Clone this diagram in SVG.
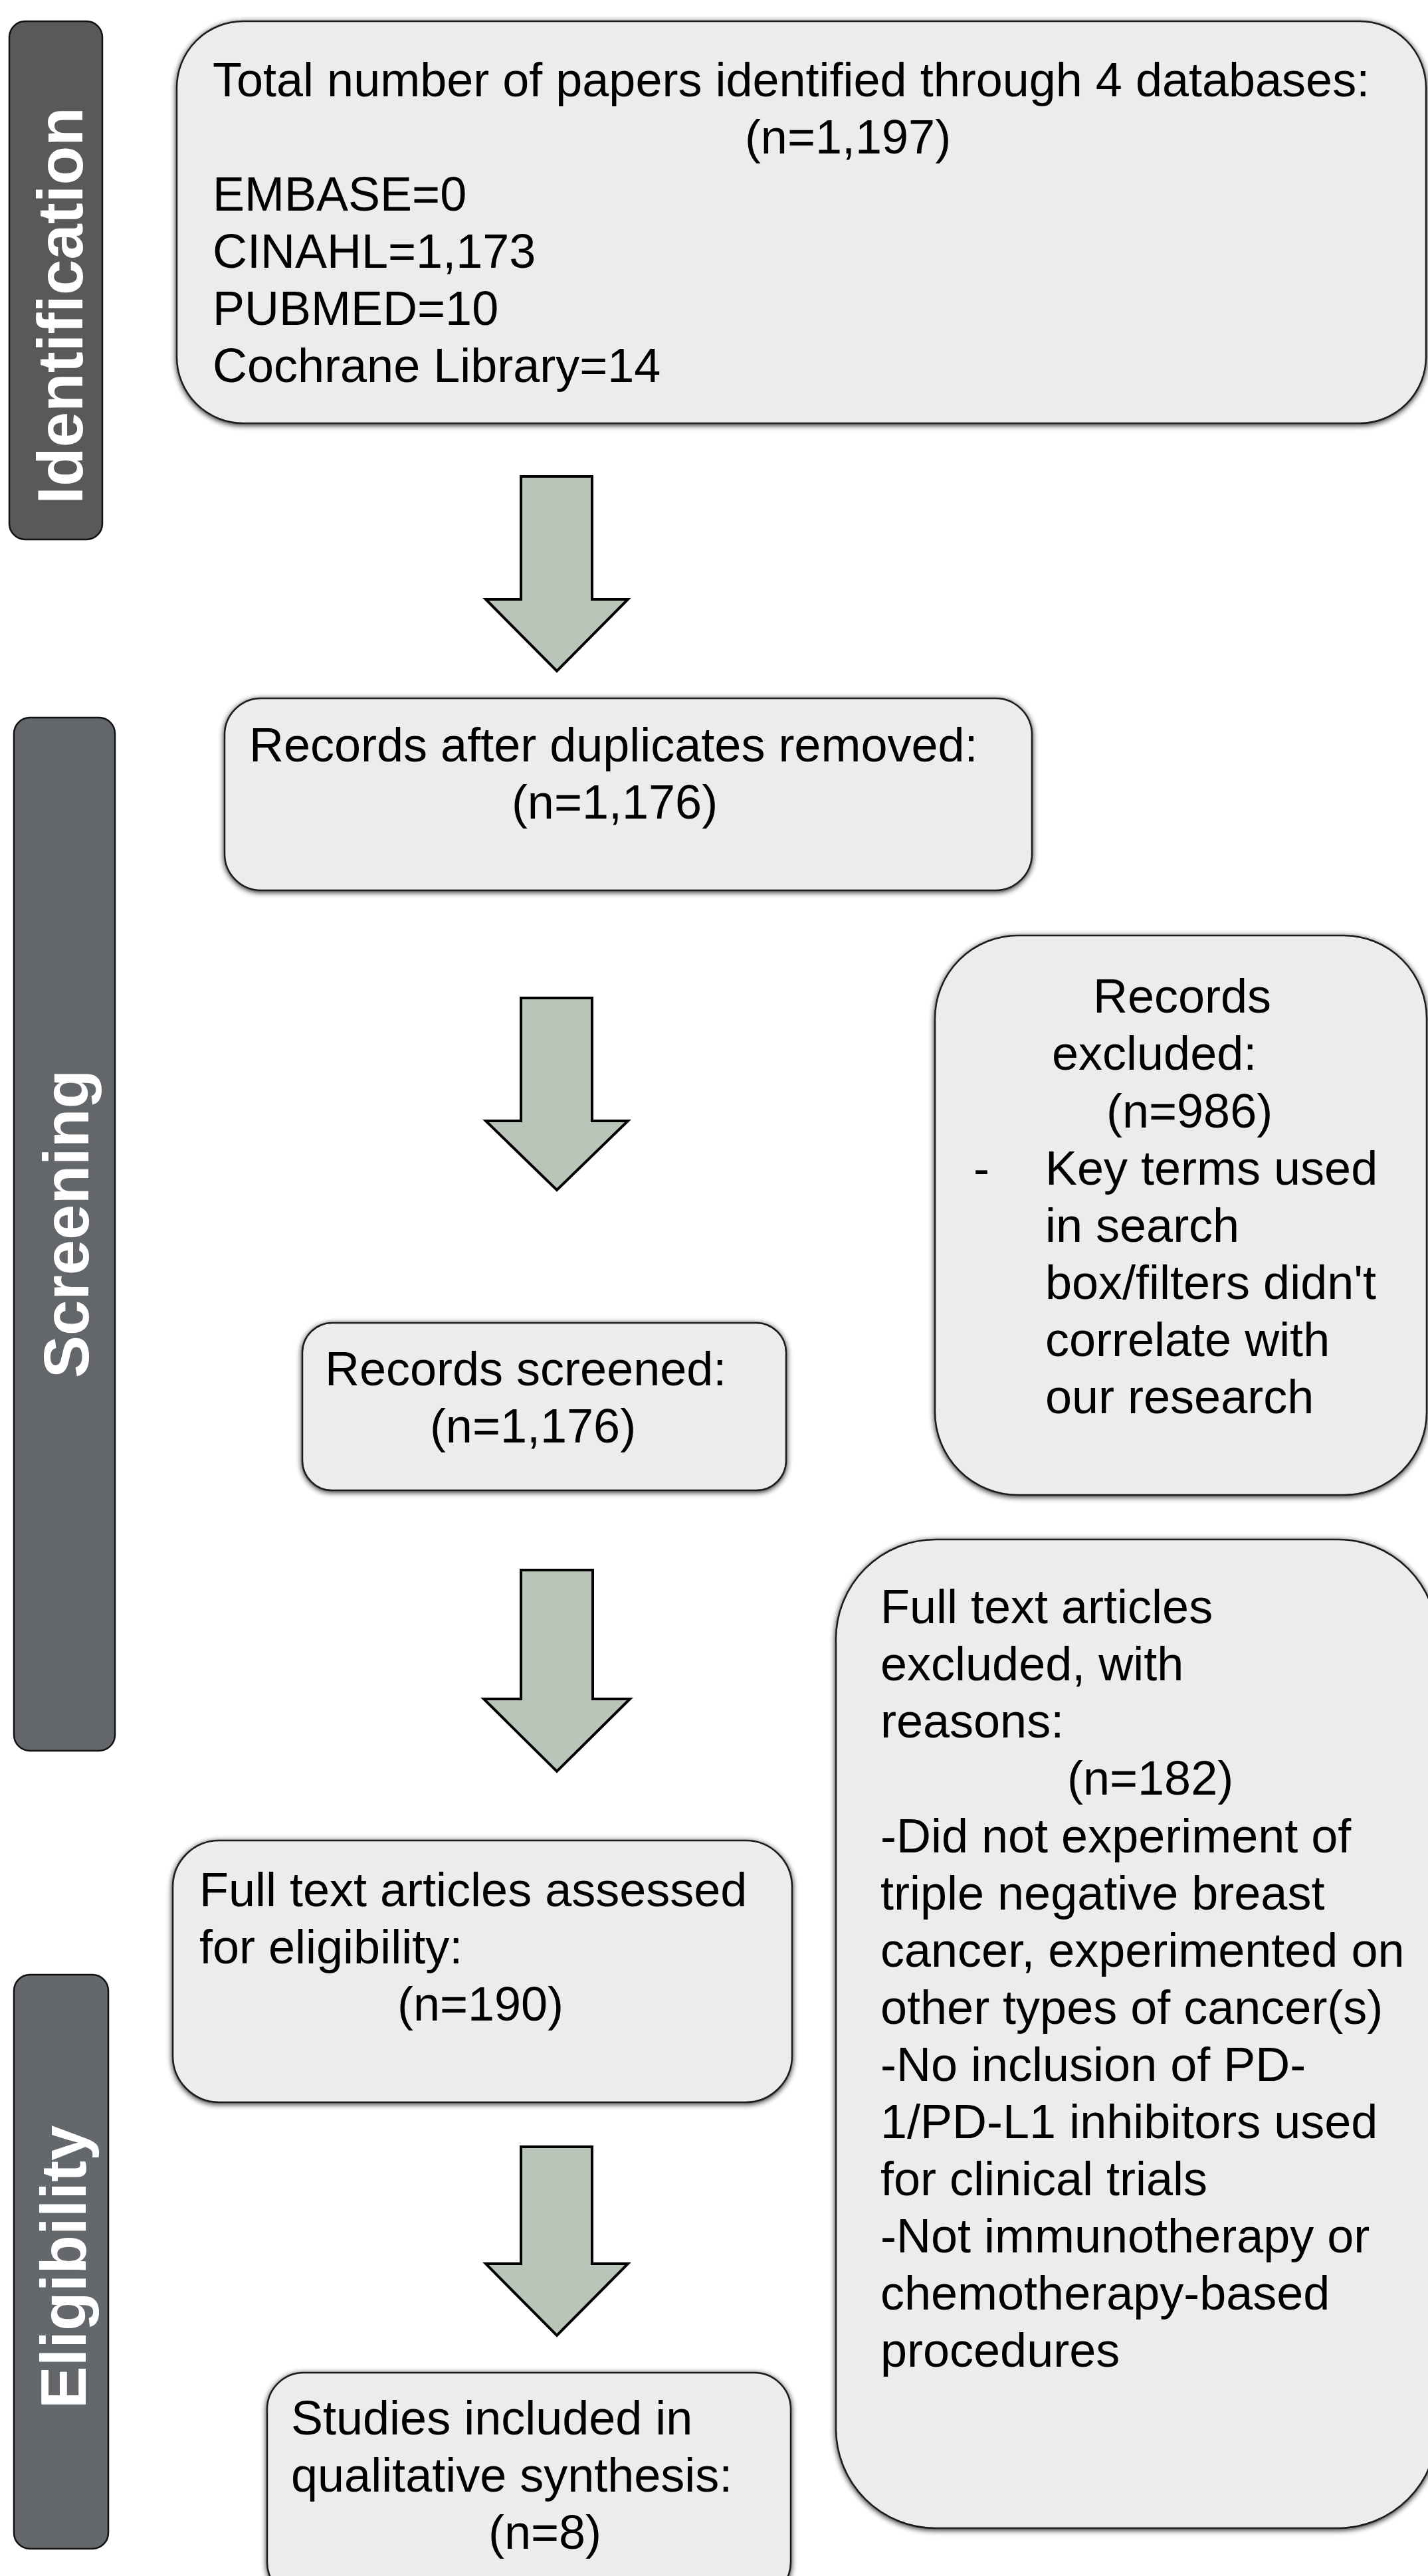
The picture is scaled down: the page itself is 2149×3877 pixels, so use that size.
<svg xmlns="http://www.w3.org/2000/svg" width="2149" height="3877" viewBox="0 0 2149 3877">
<defs>
<filter id="sh" x="-5%" y="-5%" width="110%" height="110%">
<feGaussianBlur in="SourceAlpha" stdDeviation="4.5"/>
<feOffset dx="0" dy="2" result="b"/>
<feComponentTransfer><feFuncA type="linear" slope="0.85"/></feComponentTransfer>
<feMerge><feMergeNode/><feMergeNode in="SourceGraphic"/></feMerge>
</filter>
<style>
.box{fill:#EBECEE;stroke:#1a1a1a;stroke-width:2.5;filter:url(#sh);}
.bar{stroke:#111;stroke-width:2.5;}
.t{font-family:"Liberation Sans",Arial,sans-serif;font-size:72px;fill:#000;}
.bt{font-family:"Liberation Sans",Arial,sans-serif;font-weight:bold;font-size:96px;fill:#fff;text-anchor:middle;}
.arr{fill:#BAC5BA;stroke:#000;stroke-width:4;stroke-linejoin:miter;}
</style>
</defs>
<rect width="2149" height="3877" fill="#fff"/>

<g id="bar-identification">
<rect class="bar" x="14" y="32" width="140" height="780" rx="24" fill="#595959"/>
<text class="bt" transform="translate(124,460) rotate(-90)">Identification</text>
</g>
<g id="bar-screening">
<rect class="bar" x="21" y="1080" width="152" height="1555" rx="24" fill="#63666A"/>
<text class="bt" transform="translate(133,1842) rotate(-90)">Screening</text>
</g>
<g id="bar-eligibility">
<rect class="bar" x="21" y="2972" width="142" height="864" rx="24" fill="#64676B"/>
<text class="bt" transform="translate(129,3412) rotate(-90)">Eligibility</text>
</g>

<g id="node-identified">
<rect class="box" x="266" y="32" width="1880" height="605" rx="100"/>
<text class="t" x="320" y="145">Total number of papers identified through 4 databases:</text>
<text class="t" x="1276" y="231" text-anchor="middle">(n=1,197)</text>
<text class="t" x="320" y="317">EMBASE=0</text>
<text class="t" x="320" y="403">CINAHL=1,173</text>
<text class="t" x="320" y="489">PUBMED=10</text>
<text class="t" x="320" y="575">Cochrane Library=14</text>
</g>

<g id="node-duplicates">
<rect class="box" x="338" y="1051" width="1215" height="289" rx="55"/>
<text class="t" x="375" y="1146">Records after duplicates removed:</text>
<text class="t" x="925" y="1232" text-anchor="middle">(n=1,176)</text>
</g>

<g id="node-records-excluded">
<rect class="box" x="1407" y="1408" width="740" height="842" rx="125"/>
<text class="t" x="1645" y="1524">Records</text>
<text class="t" x="1583" y="1610">excluded:</text>
<text class="t" x="1665" y="1697">(n=986)</text>
<text class="t" x="1465" y="1783">-</text>
<text class="t" x="1573" y="1783">Key terms used</text>
<text class="t" x="1573" y="1869">in search</text>
<text class="t" x="1573" y="1955">box/filters didn't</text>
<text class="t" x="1573" y="2041">correlate with</text>
<text class="t" x="1573" y="2127">our research</text>
</g>

<g id="node-screened">
<rect class="box" x="455" y="1991" width="728" height="252" rx="45"/>
<text class="t" x="489" y="2085">Records screened:</text>
<text class="t" x="802" y="2171" text-anchor="middle">(n=1,176)</text>
</g>

<g id="node-fulltext-excluded">
<rect class="box" x="1258" y="2317" width="905" height="1488" rx="150"/>
<text class="t" x="1325" y="2443">Full text articles</text>
<text class="t" x="1325" y="2529">excluded, with</text>
<text class="t" x="1325" y="2615">reasons:</text>
<text class="t" x="1606" y="2701">(n=182)</text>
<text class="t" x="1325" y="2788">-Did not experiment of</text>
<text class="t" x="1325" y="2874">triple negative breast</text>
<text class="t" x="1325" y="2960">cancer, experimented on</text>
<text class="t" x="1325" y="3046">other types of cancer(s)</text>
<text class="t" x="1325" y="3132">-No inclusion of PD-</text>
<text class="t" x="1325" y="3218">1/PD-L1 inhibitors used</text>
<text class="t" x="1325" y="3304">for clinical trials</text>
<text class="t" x="1325" y="3390">-Not immunotherapy or</text>
<text class="t" x="1325" y="3476">chemotherapy-based</text>
<text class="t" x="1325" y="3562">procedures</text>
</g>

<g id="node-fulltext-assessed">
<rect class="box" x="260" y="2770" width="932" height="394" rx="70"/>
<text class="t" x="300" y="2869">Full text articles assessed</text>
<text class="t" x="300" y="2955">for eligibility:</text>
<text class="t" x="723" y="3041" text-anchor="middle">(n=190)</text>
</g>

<g id="node-included">
<rect class="box" x="402" y="3571" width="788" height="340" rx="55"/>
<text class="t" x="438" y="3664">Studies included in</text>
<text class="t" x="438" y="3750">qualitative synthesis:</text>
<text class="t" x="820" y="3836" text-anchor="middle">(n=8)</text>
</g>

<g id="connectors">
<path class="arr" d="M784,717 H891 V902 H945 L838,1010 L731,902 H784 Z"/>
<path class="arr" d="M784,1502 H891 V1687 H945 L838,1791 L731,1687 H784 Z"/>
<path class="arr" d="M784,2363 H892 V2557 H948 L838,2666 L728,2557 H784 Z"/>
<path class="arr" d="M784,3231 H891 V3407 H945 L838,3515 L731,3407 H784 Z"/>
</g>
</svg>
